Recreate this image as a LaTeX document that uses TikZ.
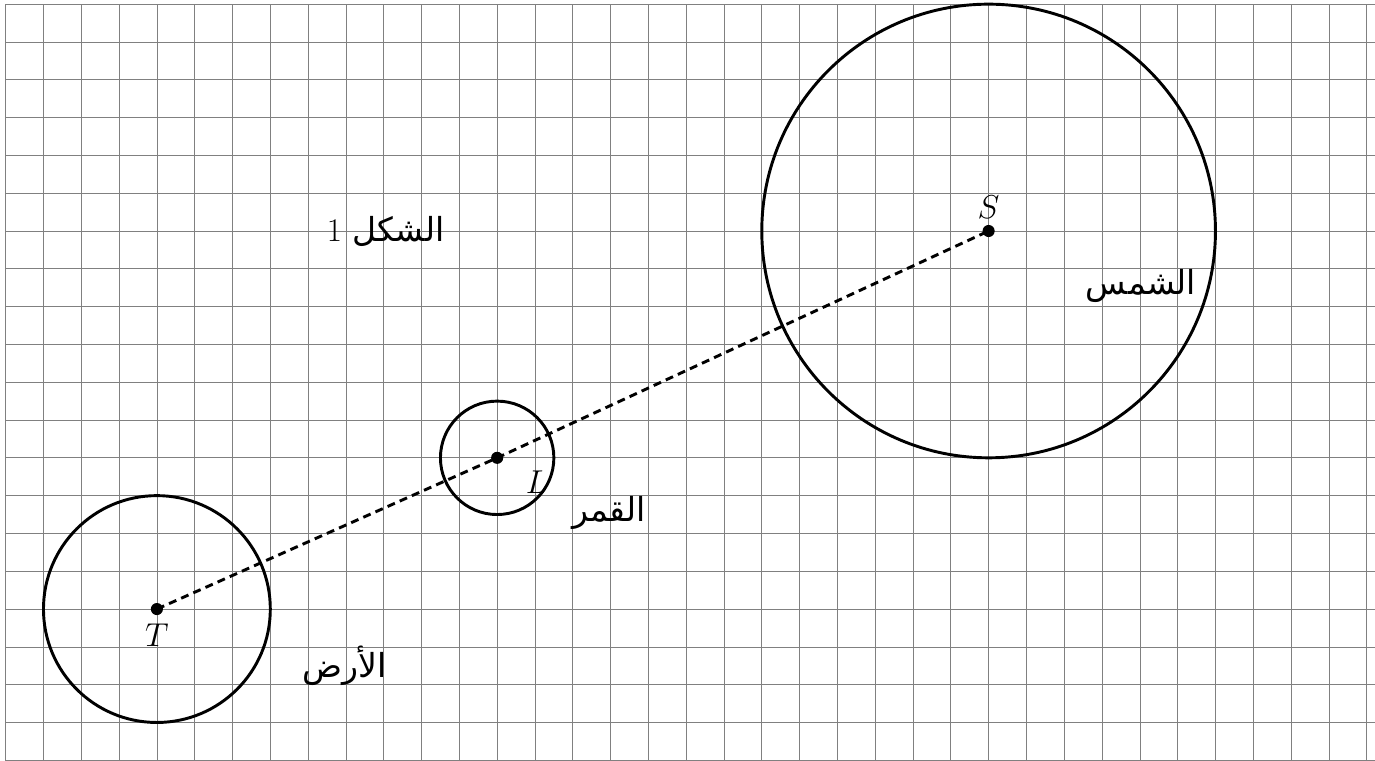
\documentclass[tikz,border=0pt]{standalone}
\usepackage{fontspec}
\newfontfamily\arabicfont[Script=Arabic]{DejaVu Sans}
\TeXXeTstate=1
\begin{document}
\begin{tikzpicture}[
  gridline/.style={draw=gray, line width=0.5pt},
  body/.style={draw=black, line width=2.2pt},
  dot/.style={circle, fill=black, inner sep=0pt, minimum size=0.32cm},
  axis/.style={line width=2.2pt, dash pattern=on 6pt off 4pt},
  lbl/.style={font=\Huge},
  arlbl/.style={font=\Huge\arabicfont}
]
\useasboundingbox (-4.15,-4) rectangle (32.22,16.11);
\draw[gridline] (-4,-4.5) grid (32.5,16);
% bodies
\node[dot] (T) at (0,0) {};
\node[dot] (L) at (9,4) {};
\node[dot] (S) at (22,10) {};
\draw[body] (T.center) circle (3);
\draw[body] (L.center) circle (1.5);
\draw[body] (S.center) circle (6);
\draw[axis] (T.center) -- (L.center) -- (S.center);
% point labels
\node[lbl] (lT) at (0,-0.7) {$T$};
\node[lbl] (lL) at (10.05,3.35) {$L$};
\node[lbl] (lS) at (22,10.63) {$S$};
% text labels
\node[arlbl] (fig) at (6.05,10) {\beginR الشكل {\rmfamily 1}\endR};
\node[arlbl] (sun) at (26.03,8.55) {\beginR الشمس\endR};
\node[arlbl] (moon) at (11.95,2.55) {\beginR القمر\endR};
\node[arlbl] (earth) at (4.97,-1.5) {\beginR الأرض\endR};
\end{tikzpicture}
\end{document}
